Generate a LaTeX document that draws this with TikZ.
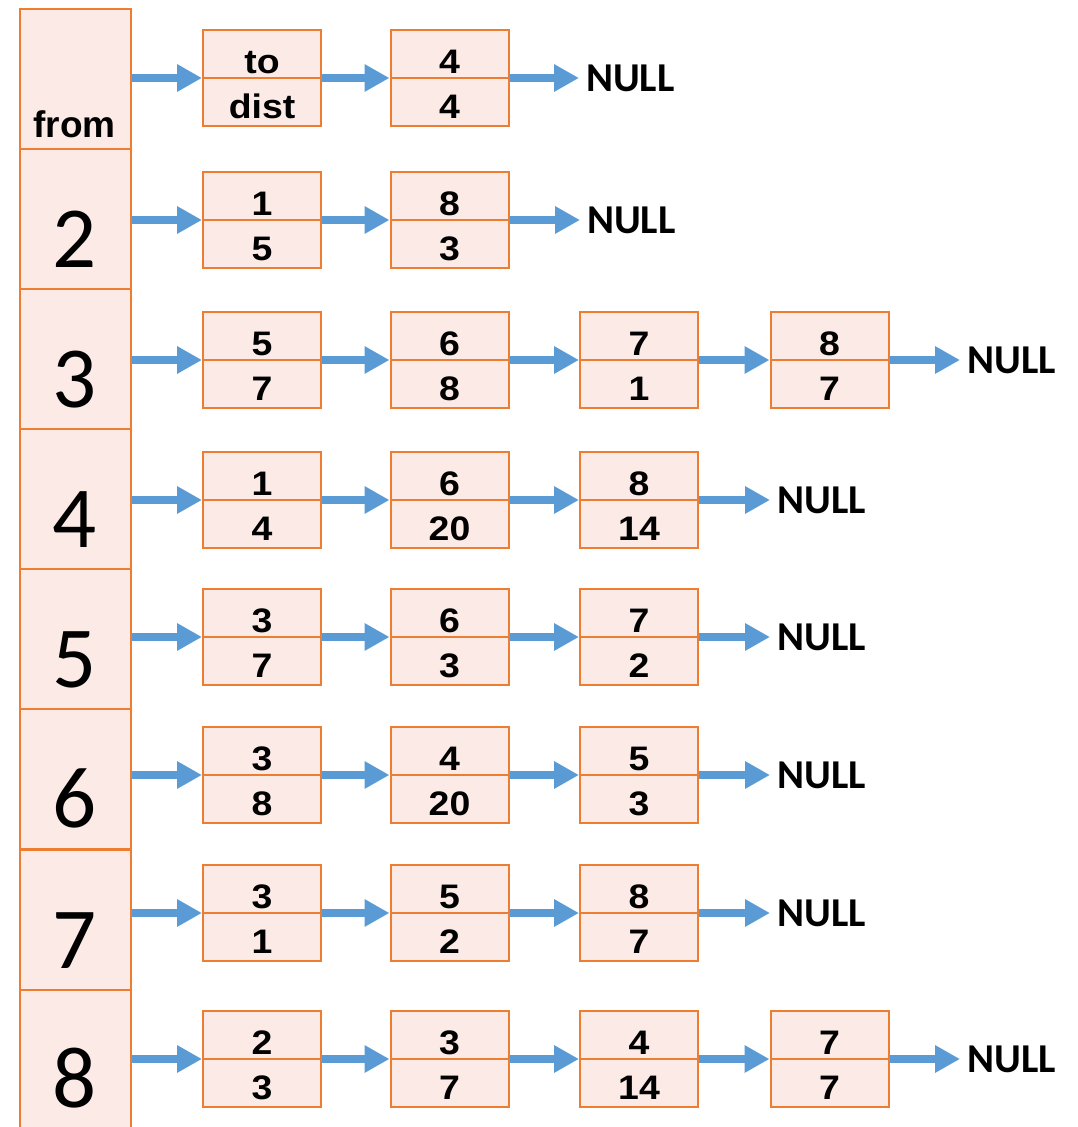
\documentclass[tikz,border=0pt]{standalone}
\usepackage{fontspec}
\setmainfont{Liberation Sans}
\newfontfamily\calfont{Carlito}
\newfontfamily\boxfont{Liberation Sans}[FakeStretch=1.1]
\usetikzlibrary{arrows.meta}
\definecolor{boxorange}{HTML}{ED7D31}
\definecolor{boxfill}{HTML}{FBEAE5}
\definecolor{arrblue}{HTML}{5B9BD5}
\newcommand\llbox[5]{%
  \node[lbox] (#1) at (#2,#3) {};
  \draw[boxorange,line width=2pt] (#1.west) -- (#1.east);
  \node[val] (#1t) at (#2,#3-17) {#4};
  \node[val] (#1b) at (#2,#3+28) {#5};
}
\begin{document}
\begin{tikzpicture}[x=1pt,y=-1pt,
  cell/.style={draw=boxorange, fill=boxfill, line width=2pt, minimum width=111pt, minimum height=140pt, inner sep=0pt, anchor=north west},
  lbox/.style={draw=boxorange, fill=boxfill, line width=2pt, minimum width=118pt, minimum height=96pt, inner sep=0pt},
  val/.style={font=\boxfont\fontsize{34}{36}\selectfont\bfseries, text height=24.3pt, text depth=0pt, inner sep=0pt},
  big/.style={font=\calfont\fontsize{87}{90}\selectfont, text height=55pt, text depth=0pt, inner sep=0pt},
  nul/.style={font=\calfont\bfseries\fontsize{41}{42}\selectfont, anchor=west, inner xsep=7pt, inner ysep=0pt, text height=26.4pt, text depth=0pt},
  link/.style={draw=arrblue, line width=8pt, -{Triangle[length=25pt,width=26pt]}}
]
\useasboundingbox (0,0) rectangle (1077,1127);
% left column
\node[cell] (h1) at (19,8) {};
\node[cell] (h2) at (19,148) {};
\node[cell] (h3) at (19,288) {};
\node[cell] (h4) at (19,428) {};
\node[cell] (h5) at (19,568) {};
\node[cell] (h6) at (19,708) {};
\node[cell] (h7) at (19,849) {};
\node[cell, minimum height=139pt] (h8) at (19,989) {};
\node[val, font=\fontsize{37}{39}\selectfont\bfseries, text height=26.5pt] (lfrom) at (74.5,124) {from};
\node[big] (l2) at (74.5,239.5) {2};
\node[big] (l3) at (74.5,379.5) {3};
\node[big] (l4) at (74.5,519.5) {4};
\node[big] (l5) at (74.5,659.5) {5};
\node[big] (l6) at (74.5,799.5) {6};
\node[big] (l7) at (74.5,940.5) {7};
\node[big] (l8) at (74.5,1080) {8};
% row 1
\llbox{b11}{262}{78}{to}{dist}
\llbox{b12}{449.5}{78}{4}{4}
\node[nul] (n1) at (579,78) {NULL};
\draw[link] (h1.east |- b11.west) -- (b11.west);
\draw[link] (b11.east) -- (b12.west);
\draw[link] (b12.east) -- (n1.west);
% row 2
\llbox{b21}{262}{220}{1}{5}
\llbox{b22}{449.5}{220}{8}{3}
\node[nul] (n2) at (580,220) {NULL};
\draw[link] (h2.east |- b21.west) -- (b21.west);
\draw[link] (b21.east) -- (b22.west);
\draw[link] (b22.east) -- (n2.west);
% row 3
\llbox{b31}{262}{360}{5}{7}
\llbox{b32}{449.5}{360}{6}{8}
\llbox{b33}{639}{360}{7}{1}
\llbox{b34}{829.5}{360}{8}{7}
\node[nul] (n3) at (960,360) {NULL};
\draw[link] (h3.east |- b31.west) -- (b31.west);
\draw[link] (b31.east) -- (b32.west);
\draw[link] (b32.east) -- (b33.west);
\draw[link] (b33.east) -- (b34.west);
\draw[link] (b34.east) -- (n3.west);
% row 4
\llbox{b41}{262}{500}{1}{4}
\llbox{b42}{449.5}{500}{6}{20}
\llbox{b43}{639}{500}{8}{14}
\node[nul] (n4) at (770,500) {NULL};
\draw[link] (h4.east |- b41.west) -- (b41.west);
\draw[link] (b41.east) -- (b42.west);
\draw[link] (b42.east) -- (b43.west);
\draw[link] (b43.east) -- (n4.west);
% row 5
\llbox{b51}{262}{637}{3}{7}
\llbox{b52}{449.5}{637}{6}{3}
\llbox{b53}{639}{637}{7}{2}
\node[nul] (n5) at (770,637) {NULL};
\draw[link] (h5.east |- b51.west) -- (b51.west);
\draw[link] (b51.east) -- (b52.west);
\draw[link] (b52.east) -- (b53.west);
\draw[link] (b53.east) -- (n5.west);
% row 6
\llbox{b61}{262}{775}{3}{8}
\llbox{b62}{449.5}{775}{4}{20}
\llbox{b63}{639}{775}{5}{3}
\node[nul] (n6) at (770,775) {NULL};
\draw[link] (h6.east |- b61.west) -- (b61.west);
\draw[link] (b61.east) -- (b62.west);
\draw[link] (b62.east) -- (b63.west);
\draw[link] (b63.east) -- (n6.west);
% row 7
\llbox{b71}{262}{913}{3}{1}
\llbox{b72}{449.5}{913}{5}{2}
\llbox{b73}{639}{913}{8}{7}
\node[nul] (n7) at (770,913) {NULL};
\draw[link] (h7.east |- b71.west) -- (b71.west);
\draw[link] (b71.east) -- (b72.west);
\draw[link] (b72.east) -- (b73.west);
\draw[link] (b73.east) -- (n7.west);
% row 8
\llbox{b81}{262}{1059}{2}{3}
\llbox{b82}{449.5}{1059}{3}{7}
\llbox{b83}{639}{1059}{4}{14}
\llbox{b84}{829.5}{1059}{7}{7}
\node[nul] (n8) at (960,1059) {NULL};
\draw[link] (h8.east |- b81.west) -- (b81.west);
\draw[link] (b81.east) -- (b82.west);
\draw[link] (b82.east) -- (b83.west);
\draw[link] (b83.east) -- (b84.west);
\draw[link] (b84.east) -- (n8.west);
\end{tikzpicture}
\end{document}
